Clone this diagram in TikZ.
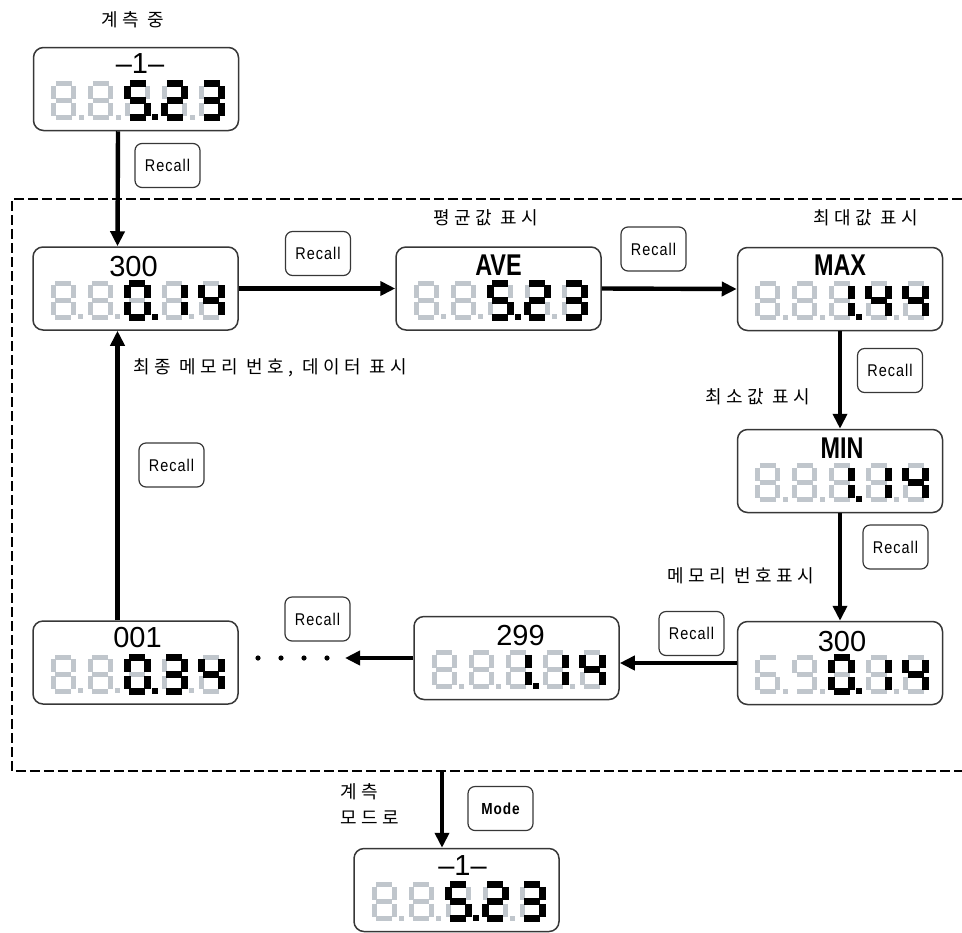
\documentclass[tikz,border=0pt]{standalone}
\usepackage{fontspec}
\setmainfont{Liberation Sans}
\newfontfamily\kofont[LetterSpace=25]{Noto Sans CJK KR}
\newfontfamily\narrowfont[FakeStretch=0.78]{Liberation Sans}
\newfontfamily\btnfont[FakeStretch=0.85,LetterSpace=6]{Liberation Sans}
\usetikzlibrary{arrows.meta}

\definecolor{lcdgray}{RGB}{192,198,204}
\definecolor{framegray}{RGB}{55,55,55}

% seven segments of one digit cell (20 x 34 px)
\newcommand{\sega}{(2,0) -- (18,0)}
\newcommand{\segb}{(20,2) -- (20,15)}
\newcommand{\segc}{(20,19) -- (20,32)}
\newcommand{\segd}{(2,34) -- (18,34)}
\newcommand{\sege}{(0,19) -- (0,32)}
\newcommand{\segf}{(0,2) -- (0,15)}
\newcommand{\segg}{(2,17) -- (18,17)}
\newcommand{\digzero}{a,b,c,d,e,f}
\newcommand{\digone}{b,c}
\newcommand{\digtwo}{a,b,d,e,g}
\newcommand{\digthree}{a,b,c,d,g}
\newcommand{\digfour}{b,c,f,g}
\newcommand{\digfive}{a,c,d,f,g}
\newcommand{\digsix}{a,c,d,e,f,g}
\newcommand{\digeight}{a,b,c,d,e,f,g}
\newcommand{\dignine}{a,b,c,d,f,g}

% \cell{box}{position}{style}{segments}
\newcommand{\cell}[4]{%
  \foreach \g in #4
    \draw[#3, shift={(#1.north west)}, shift={(21+37*#2,37)}] \csname seg\g\endcsname;}
% \lcd{box}{ghost 1}{ghost 2}{digit 3}{digit 4}{digit 5}
\newcommand{\lcd}[6]{%
  \cell{#1}{0}{ghost}{#2}\cell{#1}{1}{ghost}{#3}%
  \cell{#1}{2}{ghost}{\digeight}\cell{#1}{3}{ghost}{\digeight}\cell{#1}{4}{ghost}{\digeight}%
  \foreach \c in {0,1,3}
    \fill[lcdgray, shift={(#1.north west)}] (21+37*\c+25,68) rectangle ++(5,5);
  \fill[shift={(#1.north west)}] (21+37*2+24.5,67.5) rectangle ++(6,6);
  \cell{#1}{2}{lit}{#4}\cell{#1}{3}{lit}{#5}\cell{#1}{4}{lit}{#6}}

\tikzset{
  lcdbox/.style={draw=framegray, line width=0.75pt, rounded corners=5pt,
    minimum width=102.5pt, minimum height=41.5pt, inner sep=0pt},
  btn/.style={draw=framegray, line width=0.6pt, rounded corners=3.5pt,
    minimum width=32.5pt, minimum height=22pt, inner sep=0pt,
    font=\btnfont\fontsize{8.5}{10}\selectfont},
  lbl/.style={inner sep=0pt, font=\fontsize{14.5}{16}\selectfont},
  lblbold/.style={inner sep=0pt, font=\narrowfont\bfseries\fontsize{15}{16}\selectfont},
  note/.style={inner sep=0pt, font=\kofont\fontsize{9}{10}\selectfont},
  flow/.style={line width=2.2pt, -{Triangle[length=7.5pt,width=7pt]}},
  ghost/.style={draw=lcdgray, line width=2.6pt},
  lit/.style={draw=black, line width=3.4pt},
  frame/.style={line width=0.9pt, dash pattern=on 5pt off 2pt}
}

\begin{document}
\begin{tikzpicture}[x=0.5pt, y=-0.5pt]
  \useasboundingbox (0,0) rectangle (962,932);

  % group of memory displays
  \draw[frame] (962,199) -- (12,199) -- (12,771) -- (962,771);

  % displays
  \node[lcdbox] (t0) at (136,89) {};
  \node[lcdbox] (d1) at (135.5,288.5) {};
  \node[lcdbox] (ave) at (498.5,288.5) {};
  \node[lcdbox] (max) at (840,289) {};
  \node[lcdbox] (min) at (840,471) {};
  \node[lcdbox] (m300) at (840,663) {};
  \node[lcdbox] (n299) at (516.5,658) {};
  \node[lcdbox] (n001) at (135.5,662.5) {};
  \node[lcdbox] (b0) at (456.5,890) {};

  % display headers
  \node[lbl] (t0-lbl) at ([xshift=2pt, yshift=-8.5pt]t0.north) {–1–};
  \node[lbl] (d1-lbl) at ([xshift=-1pt, yshift=-10pt]d1.north) {300};
  \node[lblbold] (ave-lbl) at ([yshift=-9.5pt]ave.north) {AVE};
  \node[lblbold] (max-lbl) at ([yshift=-9pt]max.north) {MAX};
  \node[lblbold] (min-lbl) at ([xshift=1pt, yshift=-9.5pt]min.north) {MIN};
  \node[lbl] (m300-lbl) at ([xshift=1pt, yshift=-10.5pt]m300.north) {300};
  \node[lbl] (n299-lbl) at ([xshift=2pt, yshift=-10pt]n299.north) {299};
  \node[lbl] (n001-lbl) at ([xshift=1pt, yshift=-8.5pt]n001.north) {001};
  \node[lbl] (b0-lbl) at ([xshift=3pt, yshift=-9pt]b0.north) {–1–};

  % digits
  \lcd{t0}{\digeight}{\digeight}{\digfive}{\digtwo}{\digthree}
  \lcd{d1}{\digeight}{\digeight}{\digzero}{\digone}{\digfour}
  \lcd{ave}{\digeight}{\digeight}{\digfive}{\digtwo}{\digthree}
  \lcd{max}{\digeight}{\digeight}{\digone}{\digfour}{\digfour}
  \lcd{min}{\digeight}{\digeight}{\digone}{\digone}{\digfour}
  \lcd{m300}{\digsix}{\dignine}{\digzero}{\digone}{\digfour}
  \lcd{n299}{\digeight}{\digeight}{\digone}{\digone}{\digfour}
  \lcd{n001}{\digeight}{\digeight}{\digzero}{\digthree}{\digfour}
  \lcd{b0}{\digeight}{\digeight}{\digfive}{\digtwo}{\digthree}

  % buttons
  \node[btn] (r1) at (167.5,165.5) {Recall};
  \node[btn] (r2) at (318,253.5) {Recall};
  \node[btn] (r3) at (653.5,249) {Recall};
  \node[btn] (r4) at (890,370.5) {Recall};
  \node[btn] (r5) at (895.5,547) {Recall};
  \node[btn] (r6) at (691.5,633.5) {Recall};
  \node[btn] (r7) at (317.5,619) {Recall};
  \node[btn] (r8) at (171.5,465) {Recall};
  \node[btn, font=\btnfont\bfseries\fontsize{8}{10}\selectfont] (mode) at (500.5,808.5) {Mode};

  % notes
  \node[note] (txt-run) at (133,20) {계측 중};
  \node[note] (txt-ave) at (486,218) {평균값 표시};
  \node[note] (txt-max) at (866,218) {최대값 표시};
  \node[note] (txt-min) at (758,397) {최소값 표시};
  \node[note] (txt-no) at (741,576) {메모리 번호표시};
  \node[note, anchor=west] (txt-last) at (133,368) {최종 메모리 번호, 데이터 표시};
  \node[note, anchor=west, align=left] (txt-back) at (340,804) {계측\\[3pt]모드로};

  % flow
  \coordinate (dotsend) at (345,658);
  \coordinate (exit) at (442,771);
  \draw[flow] ([xshift=-9pt]t0.south) -- ([xshift=-9pt]d1.north);
  \draw[flow] (d1.east) -- (ave.west);
  \draw[flow] (ave.east) -- (max.west);
  \draw[flow] (max.south) -- (min.north);
  \draw[flow] (min.south) -- (m300.north);
  \draw[flow] (m300.west) -- (m300.west -| n299.east);
  \draw[flow] (n299.west) -- (dotsend);
  \foreach \x in {258,281,304,327}
    \fill (\x,658) circle (1.3pt);
  \draw[flow] ([xshift=-9pt]n001.north) -- ([xshift=-9pt]d1.south);
  \draw[flow] (exit) -- ([xshift=-7.25pt]b0.north);
\end{tikzpicture}
\end{document}
